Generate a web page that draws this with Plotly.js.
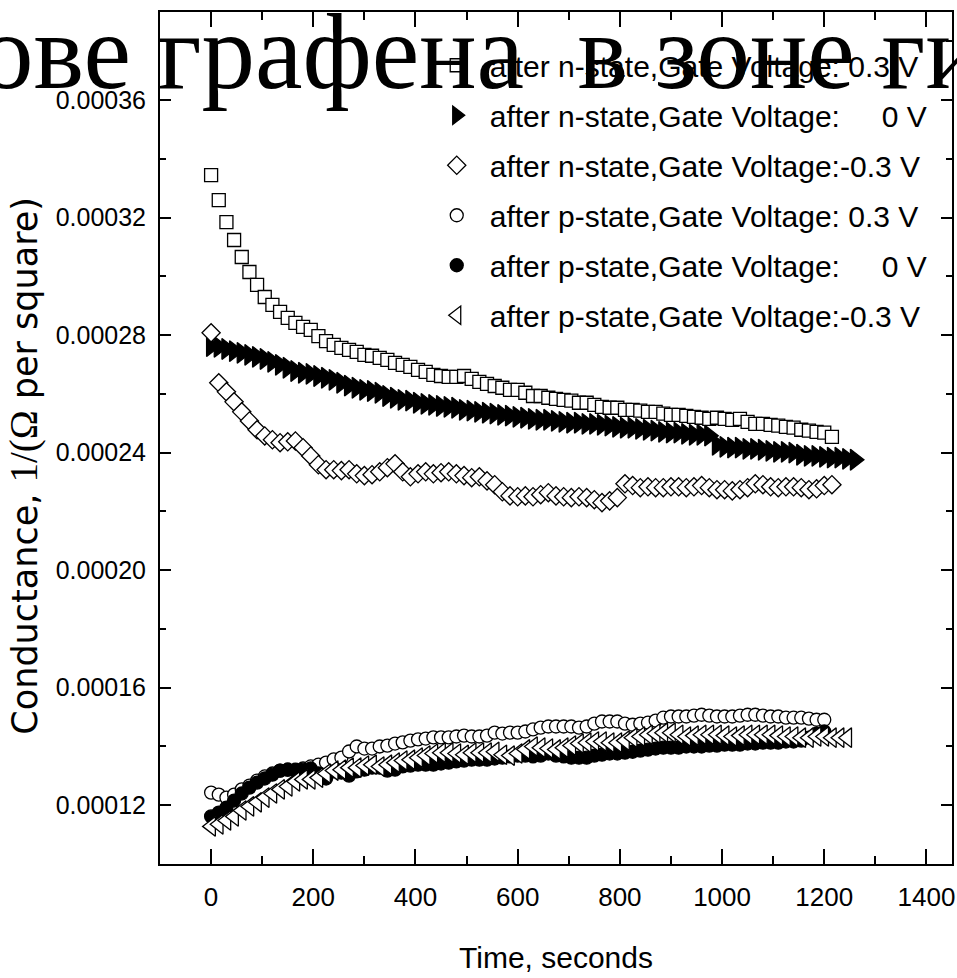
<!DOCTYPE html>
<html>
<head>
<meta charset="utf-8">
<script src="https://cdn.plot.ly/plotly-3.0.1.min.js"></script>
<style>html,body{margin:0;padding:0;background:#fff;}</style>
</head>
<body>
<div id="chart" style="width:957px;height:978px;"></div>
<script>
// time axis (seconds), shared by all series
const timeSec = [0,15,30,45,60,75,90,105,120,135,150,165,180,195,210,225,240,255,270,285,300,315,330,345,360,375,390,405,420,435,450,465,480,495,510,525,540,555,570,585,600,615,630,645,660,675,690,705,720,735,750,765,780,795,810,825,840,855,870,885,900,915,930,945,960,975,990,1005,1020,1035,1050,1065,1080,1095,1110,1125,1140,1155,1170,1185,1200,1215,1230,1245,1260];

// conductance values in micro-siemens per square (1e-6 1/Ohm)
const nState_p03 = [334.5,326.0,318.5,312.4,306.6,301.5,297.1,293.0,290.3,287.9,
285.9,284.2,282.8,281.8,279.7,278.0,276.7,275.7,275.0,274.3,
273.3,273.0,272.3,271.6,270.6,269.9,269.2,268.2,267.5,266.5,
266.1,265.8,265.8,266.1,265.1,264.1,263.4,262.7,262.1,261.4,
261.4,260.4,259.3,259.3,258.7,258.3,258.0,257.7,257.0,257.0,
256.3,255.6,255.3,255.3,254.6,254.6,254.3,253.9,253.9,253.3,
252.9,252.9,252.5,252.2,251.9,251.5,251.9,251.5,251.2,251.5,
250.5,249.8,249.8,249.5,249.2,248.8,248.5,247.8,247.5,247.1,
246.8,245.4];
const nState_0 = [276.3,276.0,275.3,274.6,274.0,273.3,272.6,271.9,270.9,269.9,
268.9,267.8,267.2,266.8,266.1,265.5,264.8,263.8,262.8,262.1,
261.4,261.0,260.4,259.3,258.7,258.0,257.7,257.0,256.6,256.3,
255.9,255.6,255.3,254.6,254.3,253.9,253.6,253.3,252.9,252.6,
252.2,251.9,251.5,251.2,251.2,250.8,250.5,250.2,250.2,249.8,
249.8,249.5,249.2,248.8,248.5,248.5,248.1,247.8,247.5,247.1,
246.8,246.8,246.4,246.1,246.1,245.8,242.7,242.0,241.7,241.7,
241.3,241.3,241.0,240.6,240.3,240.3,240.0,239.3,238.9,238.9,
238.6,238.3,238.3,237.9,237.6];
const nState_m03 = [280.8,263.8,260.7,257.3,253.9,250.8,247.8,245.7,244.4,243.4,
243.7,244.0,241.7,238.9,235.9,234.2,234.2,233.9,234.2,232.8,
232.2,232.5,233.5,234.9,236.2,233.5,231.8,232.8,233.5,232.8,
233.2,233.5,232.8,232.2,231.5,231.8,230.4,229.1,226.7,225.3,
225.0,225.3,225.0,225.7,226.4,225.3,225.0,224.7,225.0,224.7,
224.0,223.0,223.6,224.7,229.4,228.8,228.1,228.4,228.1,228.1,
228.4,228.4,228.1,228.4,228.8,228.1,227.4,227.4,227.0,227.4,
228.1,229.4,229.1,228.4,228.1,228.4,228.4,228.1,227.4,227.7,
228.8,229.1];
const pState_p03 = [124.3,123.6,122.6,123.6,125.4,126.7,128.4,129.8,130.8,131.8,
132.1,131.8,132.5,133.2,133.8,134.5,135.6,136.2,138.3,140.0,
139.3,139.3,140.0,140.3,141.0,141.4,142.0,142.4,142.7,143.1,
143.1,143.1,143.4,143.7,143.4,143.4,143.7,144.7,144.4,144.7,
144.7,145.1,145.8,146.4,146.8,146.8,146.8,146.8,146.4,146.8,
147.8,148.5,148.5,148.5,147.8,147.4,147.8,148.1,148.8,149.8,
150.2,150.2,150.2,150.5,150.8,150.5,150.2,150.2,150.2,150.5,
150.8,150.8,150.5,150.2,150.2,149.8,149.8,149.8,149.5,149.1,
149.1];
const pState_0 = [116.2,117.5,119.2,121.6,124.0,126.0,127.7,129.1,130.4,131.8,
132.1,132.1,132.1,132.5,130.8,129.1,131.5,131.1,130.1,131.5,
132.1,132.8,132.8,131.8,132.1,133.2,133.5,133.8,133.8,133.8,
134.2,134.5,134.9,135.2,135.5,135.5,135.5,135.9,136.2,136.6,
136.9,136.9,136.6,136.9,137.6,136.9,136.6,136.2,136.2,136.2,
136.9,137.2,137.6,137.6,137.9,138.2,138.6,138.9,139.3,139.6,
139.6,139.6,140.0,140.0,140.0,140.3,140.3,140.6,140.6,140.6,
141.0,141.0,141.3,141.3,141.3,141.7,141.7,142.0,143.0,144.4,
145.1];
const pState_m03 = [112.8,113.5,114.8,116.2,118.2,119.6,121.0,122.6,124.0,125.4,
126.4,128.1,128.8,128.8,129.4,130.8,131.8,132.1,132.8,132.8,
133.5,133.8,133.2,133.8,134.5,135.2,135.5,136.2,136.9,137.6,
137.9,137.9,137.6,137.2,137.9,137.9,137.9,138.2,137.2,136.9,
137.6,139.0,140.0,139.6,139.3,139.0,139.6,140.3,141.0,141.3,
141.7,141.7,141.3,141.3,142.0,143.0,143.4,144.0,144.4,144.7,
144.7,144.0,143.4,143.7,144.0,144.0,144.0,143.7,143.4,143.7,
144.0,144.0,144.0,144.0,143.7,143.4,143.4,143.0,143.0,143.4,
143.4,143.0,143.0,143.0];

const NB = '\u00a0';
const seriesNames = [
  'after n-state,Gate Voltage: 0.3 V',
  'after n-state,Gate Voltage:' + NB.repeat(5) + '0 V',
  'after n-state,Gate Voltage:-0.3 V',
  'after p-state,Gate Voltage: 0.3 V',
  'after p-state,Gate Voltage:' + NB.repeat(5) + '0 V',
  'after p-state,Gate Voltage:-0.3 V'
];
const seriesValues = [nState_p03, nState_0, nState_m03, pState_p03, pState_0, pState_m03];

const titleText = 'на основе графена' + NB + ' в зоне гистерезиса';
const xTitle = 'Time, seconds';
const yTitle = 'Conductance, <span style="font-family:Liberation Serif;font-size:39px">1/(Ω</span> per square)' + NB.repeat(5) + '\u200b';

const styles = [
  {symbol:'square', size:13, color:'#fff'},
  {symbol:'triangle-right', size:18, color:'#000'},
  {symbol:'diamond', size:14, color:'#fff'},
  {symbol:'circle', size:13, color:'#fff'},
  {symbol:'circle', size:13, color:'#000'},
  {symbol:'triangle-left', size:17, color:'#fff'}
];

const traces = seriesValues.map((vals, i) => ({
  type:'scatter', mode:'markers',
  x: timeSec.slice(0, vals.length),
  y: vals.map(v => v * 1e-6),
  name: seriesNames[i],
  legendgroup: 'g' + i,
  marker: {symbol: styles[i].symbol, size: styles[i].size, color: styles[i].color,
           line: {color:'#000', width:1.3}}
}));

const axisCommon = {
  showline:true, linewidth:2, linecolor:'#000', mirror:'allticks',
  showgrid:false, zeroline:false, ticks:'inside', tickwidth:2, tickcolor:'#000'
};

const layout = {
  width:957, height:978,
  paper_bgcolor:'#fff', plot_bgcolor:'#fff',
  margin:{l:160, r:5, t:12, b:114, pad:0},
  font:{family:'Liberation Sans, Arial, sans-serif', color:'#000'},
  title:{text:titleText, font:{family:'Liberation Serif, Times New Roman, serif', size:107, color:'#000'},
         xref:'container', x:0.58, xanchor:'center', yref:'container', y:0.948, yanchor:'middle'},
  showlegend:true,
  legend:{x:0.333, xanchor:'left', y:0.968, yanchor:'top', bgcolor:'rgba(0,0,0,0)', borderwidth:0,
          font:{family:'Liberation Sans, Arial, sans-serif', size:30, color:'#000'},
          itemwidth:56, tracegroupgap:8, traceorder:'grouped'},
  xaxis: Object.assign({}, axisCommon, {
    range:[-100,1450], tick0:0, dtick:200, ticklen:15,
    minor:{tick0:0, dtick:100, ticks:'inside', ticklen:8, tickwidth:2, tickcolor:'#000'},
    tickfont:{family:'Liberation Sans, Arial, sans-serif', size:26, color:'#000'},
    ticklabelstandoff:9, ticklabeloverflow:'allow',
    title:{text:xTitle, font:{family:'Liberation Sans, Arial, sans-serif', size:30, color:'#000'}, standoff:36}
  }),
  yaxis: Object.assign({}, axisCommon, {
    range:[0.0001,0.00039], tick0:0, dtick:0.00004, tickformat:'.5f', ticklen:11,
    minor:{tick0:0, dtick:0.00002, ticks:'inside', ticklen:6, tickwidth:2, tickcolor:'#000'},
    tickfont:{family:'Liberation Sans, Arial, sans-serif', size:25, color:'#000'},
    ticklabelstandoff:7,
    title:{text:yTitle, font:{family:'DejaVu Sans, sans-serif', size:35, color:'#000'}, standoff:7}
  })
};

Plotly.newPlot('chart', traces, layout, {staticPlot:true, displayModeBar:false});
</script>
</body>
</html>
